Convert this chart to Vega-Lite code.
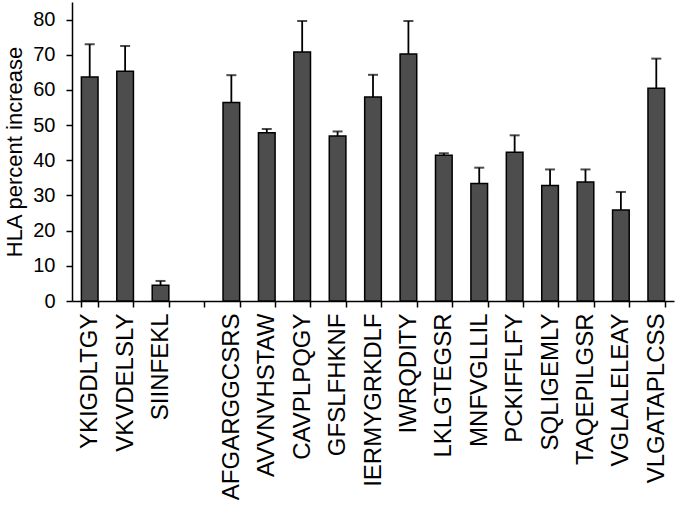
{
  "$schema": "https://vega.github.io/schema/vega-lite/v6.json",
  "width": 602,
  "height": 299,
  "autosize": "none",
  "padding": {"left": 72, "top": 2, "right": 6, "bottom": 205},
  "background": "white",
  "config": {"view": {"stroke": null}, "font": "Liberation Sans"},
  "data": {"values": [
    {"peptide": "YKIGDLTGY", "value": 63.7, "err": 73.0},
    {"peptide": "VKVDELSLY", "value": 65.3, "err": 72.5},
    {"peptide": "SIINFEKL", "value": 4.5, "err": 5.7},
    {"peptide": "AFGARGGCSRS", "value": 56.4, "err": 64.2},
    {"peptide": "AVVNVHSTAW", "value": 47.8, "err": 48.9},
    {"peptide": "CAVPLPQGY", "value": 70.8, "err": 79.6},
    {"peptide": "GFSLFHKNF", "value": 46.9, "err": 48.2},
    {"peptide": "IERMYGRKDLF", "value": 58.0, "err": 64.3},
    {"peptide": "IWRQDITY", "value": 70.2, "err": 79.6},
    {"peptide": "LKLGTEGSR", "value": 41.4, "err": 42.0},
    {"peptide": "MNFVGLLIL", "value": 33.4, "err": 37.9},
    {"peptide": "PCKIFFLFY", "value": 42.3, "err": 47.1},
    {"peptide": "SQLIGEMLY", "value": 32.8, "err": 37.4},
    {"peptide": "TAQEPILGSR", "value": 33.8, "err": 37.4},
    {"peptide": "VGLALELEAY", "value": 25.9, "err": 31.0},
    {"peptide": "VLGATAPLCSS", "value": 60.5, "err": 68.9}
  ]},
  "encoding": {
    "x": {
      "field": "peptide", "type": "nominal",
      "scale": {"domain": ["YKIGDLTGY", "VKVDELSLY", "SIINFEKL", " ", "AFGARGGCSRS", "AVVNVHSTAW", "CAVPLPQGY", "GFSLFHKNF", "IERMYGRKDLF", "IWRQDITY", "LKLGTEGSR", "MNFVGLLIL", "PCKIFFLFY", "SQLIGEMLY", "TAQEPILGSR", "VGLALELEAY", "VLGATAPLCSS"], "paddingInner": 0.53, "paddingOuter": 0.265},
      "axis": {"title": null, "labelAngle": -90, "labelFontSize": 24, "labelColor": "black", "labelPadding": 6, "labelLimit": 300, "tickBand": "extent", "tickSize": 6, "tickColor": "black", "tickWidth": 1.5, "domainColor": "black", "domainWidth": 1.5, "labelOverlap": false}
    },
    "y": {"field": "value", "type": "quantitative",
      "scale": {"domain": [0, 85], "nice": false},
      "axis": {"title": "HLA percent increase", "titleFontSize": 22, "titleFontWeight": "normal", "titleColor": "black", "titlePadding": 6, "values": [0, 10, 20, 30, 40, 50, 60, 70, 80], "labelFontSize": 20, "labelColor": "black", "labelPadding": 11, "tickSize": 6, "tickColor": "black", "tickWidth": 1.5, "domainColor": "black", "domainWidth": 1.5, "grid": false}}
  },
  "layer": [
    {
      "mark": {"type": "rule", "color": "black", "strokeWidth": 1.8},
      "encoding": {"y2": {"field": "err"}}
    },
    {
      "mark": {"type": "tick", "color": "black", "thickness": 2, "size": 10},
      "encoding": {"y": {"field": "err", "type": "quantitative"}}
    },
    {
      "mark": {"type": "bar", "color": "#4d4d4d", "stroke": "black", "strokeWidth": 1.5}
    }
  ]
}
